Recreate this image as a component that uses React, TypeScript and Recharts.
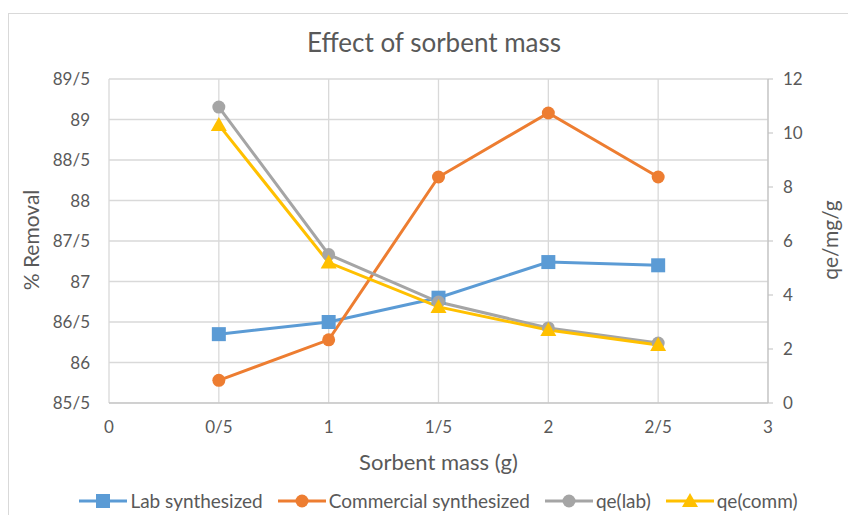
import React from 'react';
import { LineChart, Line, XAxis, YAxis, CartesianGrid, Label } from 'recharts';

const masses = [0.5, 1, 1.5, 2, 2.5];
const labRemoval = [86.35, 86.5, 86.8, 87.24, 87.2];
const commRemoval = [85.78, 86.28, 88.29, 89.08, 88.29];
const qeLab = [10.96, 5.5, 3.74, 2.78, 2.22];
const qeComm = [10.3, 5.2, 3.56, 2.7, 2.15];

const xTicks = [0, 0.5, 1, 1.5, 2, 2.5, 3];
const removalTicks = [85.5, 86, 86.5, 87, 87.5, 88, 88.5, 89, 89.5];
const qeTicks = [0, 2, 4, 6, 8, 10, 12];

const data = masses.map((m, i) => ({
  mass: m,
  lab: labRemoval[i],
  comm: commRemoval[i],
  qeLab: qeLab[i],
  qeComm: qeComm[i],
}));

const FONT = 'Lato, "Open Sans", sans-serif';
const TEXT = '#595959';

// Persian style decimal separator
const fmt = (v: number) => String(v).replace('.', '/');

const series = [
  { key: 'lab', name: 'Lab synthesized', color: '#5B9BD5', shape: 'square', axis: 'left' },
  { key: 'comm', name: 'Commercial synthesized', color: '#ED7D31', shape: 'circle', axis: 'left' },
  { key: 'qeLab', name: 'qe(lab)', color: '#A5A5A5', shape: 'circle', axis: 'right' },
  { key: 'qeComm', name: 'qe(comm)', color: '#FFC000', shape: 'triangle', axis: 'right' },
];

const Marker = ({ cx, cy, shape, color }: any) => {
  if (cx == null || cy == null) return null;
  if (shape === 'square') return <rect x={cx - 7} y={cy - 7} width={14} height={14} fill={color} />;
  if (shape === 'triangle')
    return <polygon points={`${cx},${cy - 8} ${cx + 8},${cy + 6} ${cx - 8},${cy + 6}`} fill={color} />;
  return <circle cx={cx} cy={cy} r={6.5} fill={color} />;
};

const VTitle = ({ viewBox, text, off }: any) => {
  const cx = viewBox.x + off;
  const cy = viewBox.y + viewBox.height / 2 - 1;
  return (
    <text x={cx} y={cy} transform={`rotate(-90 ${cx} ${cy})`} textAnchor="middle" dominantBaseline="central"
      fill={TEXT} fontSize={21} fontFamily={FONT}>
      {text}
    </text>
  );
};

export default function App() {
  return (
    <div style={{ position: 'absolute', left: 0, top: 0, width: 848, height: 515, background: '#fff', overflow: 'hidden' }}>
      <div style={{ position: 'absolute', left: 8, top: 13, width: 900, height: 600, border: '1px solid #d9d9d9' }} />
      <div style={{ position: 'absolute', left: 0, top: 26, width: 868, textAlign: 'center', fontFamily: FONT, fontSize: 26, color: TEXT }}>
        Effect of sorbent mass
      </div>
      <div style={{ position: 'absolute', left: 0, top: 0 }}>
        <LineChart width={848} height={515} data={data} margin={{ top: 79, right: 0, left: 0, bottom: 37 }}>
          <CartesianGrid yAxisId="left" stroke="#d9d9d9" strokeWidth={1.3} horizontalValues={removalTicks} verticalValues={xTicks} />
          <XAxis dataKey="mass" type="number" domain={[0, 3]} ticks={xTicks} tickFormatter={fmt}
            height={75} tickLine={false} tickSize={6} tickMargin={12} stroke="#bfbfbf"
            tick={{ fill: TEXT, fontSize: 17, fontFamily: FONT }}>
            <Label value="Sorbent mass (g)" position="insideBottom" offset={8} fill={TEXT} fontSize={22} fontFamily={FONT} />
          </XAxis>
          <YAxis yAxisId="left" domain={[85.5, 89.5]} ticks={removalTicks} tickFormatter={fmt} width={109}
            axisLine={false} tickLine={false} tickSize={6} tickMargin={13}
            tick={{ fill: TEXT, fontSize: 17, fontFamily: FONT }}>
            <Label content={(p: any) => <VTitle {...p} text="% Removal" off={30} />} />
          </YAxis>
          <YAxis yAxisId="right" orientation="right" domain={[0, 12]} ticks={qeTicks} width={80}
            stroke="#bfbfbf" tickSize={5} tickMargin={10}
            tick={{ fill: TEXT, fontSize: 17, fontFamily: FONT }}>
            <Label content={(p: any) => <VTitle {...p} text="qe/mg/g" off={61} />} />
          </YAxis>
          {series.map((s) => (
            <Line key={s.key} yAxisId={s.axis} dataKey={s.key} name={s.name} stroke={s.color} strokeWidth={3}
              isAnimationActive={false}
              dot={(p: any) => <Marker key={`${s.key}-${p.index}`} cx={p.cx} cy={p.cy} shape={s.shape} color={s.color} />} />
          ))}
        </LineChart>
      </div>
      <div style={{ position: 'absolute', left: 0, top: 488, width: 877, display: 'flex', justifyContent: 'center', gap: 15,
        fontFamily: FONT, fontSize: 19, color: TEXT, lineHeight: '26px' }}>
        {series.map((s) => (
          <div key={s.key} style={{ display: 'flex', alignItems: 'center' }}>
            <svg width={48} height={16} style={{ marginRight: 3 }}>
              <line x1={0} y1={8} x2={48} y2={8} stroke={s.color} strokeWidth={3} />
              <Marker cx={24} cy={8} shape={s.shape} color={s.color} />
            </svg>
            <span>{s.name}</span>
          </div>
        ))}
      </div>
    </div>
  );
}
